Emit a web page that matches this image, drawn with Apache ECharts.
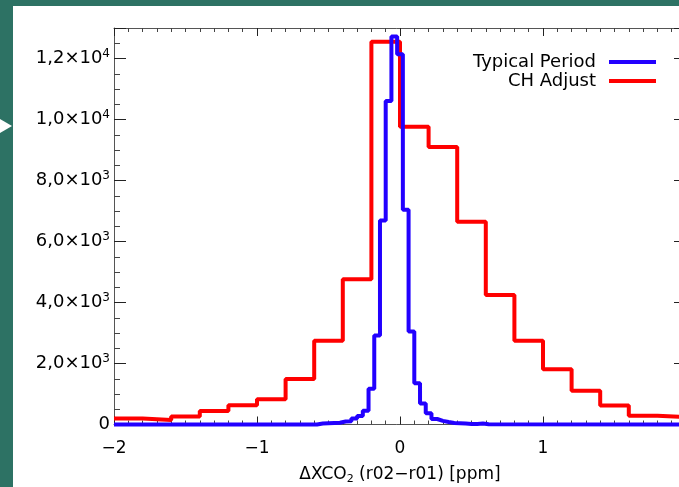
<!DOCTYPE html>
<html lang="en">
<head>
<meta charset="UTF-8">
<title>XCO2 difference histogram</title>
<script src="https://cdn.jsdelivr.net/npm/echarts@6/dist/echarts.min.js"></script>
<style>
  body { margin: 0; padding: 0; background: #2d7264; width: 679px; height: 487px; overflow: hidden; position: relative; }
  #chart { position: absolute; left: 13px; top: 6px; width: 666px; height: 481px; background: #ffffff; }
  #arrow {
    position: absolute; left: 0; top: 119px; width: 0; height: 0;
    border-top: 7px solid transparent; border-bottom: 7px solid transparent;
    border-left: 12px solid #ffffff;
  }
</style>
</head>
<body>
<div id="arrow"></div>
<div id="chart"></div>
<script>
  // histogram bins: left edges (last entry = right edge of last bin) and counts
  var redEdges = [-2.0, -1.8, -1.6, -1.4, -1.2, -1.0, -0.8, -0.6, -0.4, -0.2, 0.0,
                  0.2, 0.4, 0.6, 0.8, 1.0, 1.2, 1.4, 1.6, 1.8, 2.0];
  var redCounts = [200, 150, 260, 440, 630, 830, 1490, 2750, 4760, 12550,
                   9760, 9100, 6650, 4250, 2750, 1810, 1110, 620, 290, 240];

  var blueEdges = [-2.00, -0.58, -0.54, -0.50, -0.46, -0.42, -0.38, -0.34, -0.30, -0.26, -0.22,
                   -0.18, -0.14, -0.10, -0.06, -0.02, 0.02, 0.06, 0.10, 0.14, 0.18, 0.22,
                   0.26, 0.30, 0.34, 0.38, 0.42, 0.46, 0.50, 0.54, 0.58, 0.62, 2.00];
  var blueCounts = [0, 30, 40, 50, 60, 100, 110, 200, 280, 450, 1170,
                    2920, 6690, 10610, 12720, 12140, 7040, 3050, 1350, 690, 370, 180,
                    120, 80, 50, 40, 30, 20, 20, 30, 10, 0];

  var xTicks = [-2, -1, 0, 1, 2];
  var yTicks = [0, 2000, 4000, 6000, 8000, 10000, 12000];

  function steps(edges, counts) {
    return edges.map(function (e, i) {
      return [e, counts[Math.min(i, counts.length - 1)]];
    });
  }

  function yLabel(v) {
    if (v === 0) return '{m|0}';
    var p = Math.floor(Math.log10(v));
    var m = (v / Math.pow(10, p)).toFixed(1).replace('.', ',');
    return '{m|' + m + '×10}{s|' + p + '}';
  }

  var font = 'DejaVu Sans';
  var axisCol = '#555555';

  var tickX = { show: true, inside: true, length: 8, lineStyle: { color: '#222' } };
  var minorX = { show: true, splitNumber: 10, length: 4, lineStyle: { color: '#444' } };
  var tickY = { show: true, inside: true, length: 12, lineStyle: { color: '#222' } };
  var minorY = { show: true, splitNumber: 4, length: 6, lineStyle: { color: '#444' } };
  var line = { show: true, onZero: false, lineStyle: { color: axisCol } };

  var chart = echarts.init(document.getElementById('chart'));
  chart.setOption({
    animation: false,
    backgroundColor: '#ffffff',
    grid: { left: 101, right: -7, top: 22, bottom: 62.5, outerBoundsMode: 'none', containLabel: false },
    legend: [
      {
        data: ['Typical Period'], right: 18, top: 42, align: 'right', orient: 'vertical',
        icon: 'rect', itemWidth: 47, itemHeight: 4,
        textStyle: { fontFamily: font, fontSize: 18, color: '#000', padding: [0, 8, 0, 0] }
      },
      {
        data: ['CH Adjust'], right: 18, top: 61, align: 'right', orient: 'vertical',
        icon: 'rect', itemWidth: 47, itemHeight: 4,
        textStyle: { fontFamily: font, fontSize: 18, color: '#000', padding: [0, 8, 0, 0] }
      }
    ],
    xAxis: [
      {
        type: 'value', min: -2, max: 2, interval: 1,
        axisLine: line, axisTick: tickX, minorTick: minorX, splitLine: { show: false },
        axisLabel: {
          margin: 16, fontFamily: font, fontSize: 17, color: '#000',
          formatter: function (v) { return xTicks.indexOf(v) < 0 ? '' : String(v).replace('-', '−'); }
        },
        name: '{n|ΔXCO}{b|2}{n| (r02−r01) [ppm]}',
        nameLocation: 'middle', nameGap: 39,
        nameTextStyle: {
          rich: {
            n: { fontFamily: font, fontSize: 17, color: '#000', lineHeight: 22 },
            b: { fontFamily: font, fontSize: 11, color: '#000', verticalAlign: 'bottom', padding: [0, 0, 1, 0] }
          }
        }
      },
      {
        type: 'value', position: 'top', min: -2, max: 2, interval: 1,
        axisLine: line, axisTick: tickX, minorTick: minorX, splitLine: { show: false },
        axisLabel: { show: false }
      }
    ],
    yAxis: [
      {
        type: 'value', min: 0, max: 13000, interval: 2000,
        axisLine: line, axisTick: tickY, minorTick: minorY, splitLine: { show: false },
        axisLabel: {
          margin: 4, formatter: function (v) { return yTicks.indexOf(v) < 0 ? '' : yLabel(v); },
          rich: {
            m: { fontFamily: font, fontSize: 18, color: '#000', lineHeight: 22 },
            s: { fontFamily: font, fontSize: 12, color: '#000', verticalAlign: 'top', padding: [0, 0, 6, 0] }
          }
        }
      },
      {
        type: 'value', position: 'right', min: 0, max: 13000, interval: 2000,
        axisLine: line, axisTick: tickY, minorTick: minorY, splitLine: { show: false },
        axisLabel: { show: false }
      }
    ],
    series: [
      {
        name: 'CH Adjust', type: 'line', step: 'end', showSymbol: false, clip: false,
        color: '#ff0000', lineStyle: { width: 4, color: '#ff0000' },
        data: steps(redEdges, redCounts)
      },
      {
        name: 'Typical Period', type: 'line', step: 'end', showSymbol: false, clip: false,
        color: '#2200ff', lineStyle: { width: 4, color: '#2200ff' },
        data: steps(blueEdges, blueCounts)
      }
    ]
  });
</script>
</body>
</html>
